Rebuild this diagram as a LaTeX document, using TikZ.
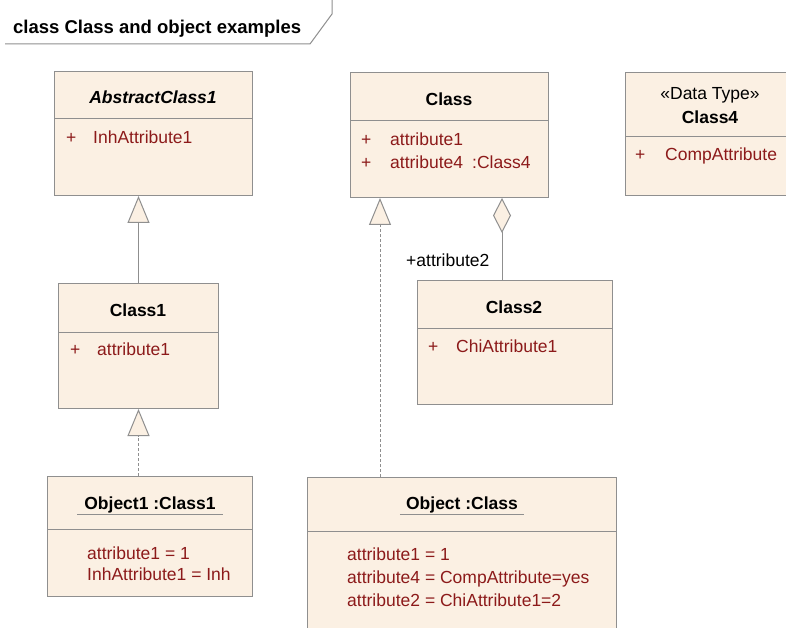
\documentclass[tikz,border=0pt]{standalone}
\usepackage{fontspec}
\setmainfont{Liberation Sans}
\usetikzlibrary{arrows.meta,calc}
\definecolor{boxfill}{HTML}{FBF0E3}
\definecolor{boxline}{HTML}{8F8F8F}
\definecolor{attrred}{HTML}{8C1A1A}
\begin{document}
\begin{tikzpicture}[x=1pt,y=-1pt,
  every node/.style={font=\fontsize{17.5}{20}\selectfont},
  umlbox/.style={draw=boxline, fill=boxfill, line width=1pt, anchor=north west, inner sep=0pt},
  ttl/.style={font=\fontsize{17.5}{20}\selectfont\bfseries, inner sep=0pt, anchor=mid, yshift=-3.5pt},
  attr/.style={text=attrred, inner sep=0pt, anchor=mid west, yshift=-3.5pt},
  plain/.style={inner sep=0pt, anchor=mid west, yshift=-3.5pt},
  divider/.style={draw=boxline, line width=1pt},
  gen/.style={draw=boxline, line width=1pt, -{Triangle[width=22pt,length=27pt,fill=boxfill]}},
  inst/.style={gen, dash pattern=on 3pt off 2pt},
  agg/.style={draw=boxline, line width=1pt, -{Diamond[width=18pt,length=35pt,fill=boxfill]}}
]
\useasboundingbox (0,0) rectangle (786,628);
\clip (0,0) rectangle (786,628);
\fill[white] (0,0) rectangle (786,628);

% frame label
\draw[boxline, line width=1pt] (5,44) -- (310,44) -- (332,14) -- (332,0);
\node[ttl, anchor=mid west, font=\fontsize{18.5}{21}\selectfont\bfseries] (frameT) at (13,27) {class Class and object examples};

% AbstractClass1
\node[umlbox, minimum width=198pt, minimum height=124pt] (abs) at (54,71) {};
\draw[divider] (abs.west |- 0,119) -- (abs.east |- 0,119);
\node[ttl, font=\fontsize{17.5}{20}\selectfont\bfseries\itshape] (absT) at (153,97) {AbstractClass1};
\node[attr] (absP) at (66,137) {+};
\node[attr] (absA) at (93,137) {InhAttribute1};

% Class
\node[umlbox, minimum width=198pt, minimum height=125pt] (cls) at (350,72) {};
\draw[divider] (cls.west |- 0,121) -- (cls.east |- 0,121);
\node[ttl] (clsT) at (449,99) {Class};
\node[attr] (clsP1) at (361,139) {+};
\node[attr] (clsA1) at (390,139) {attribute1};
\node[attr] (clsP2) at (361,162) {+};
\node[attr] (clsA2) at (390,162) {attribute4\hspace{9pt}:Class4};

% Class4
\node[umlbox, minimum width=175pt, minimum height=123pt] (c4) at (625,72) {};
\draw[divider] (c4.west |- 0,137) -- (c4.east |- 0,137);
\node[inner sep=0pt, anchor=mid, yshift=-3.5pt] (c4S) at (710,93) {«Data Type»};
\node[ttl] (c4T) at (710,117) {Class4};
\node[attr] (c4P) at (635,154) {+};
\node[attr] (c4A) at (665,154) {CompAttribute};

% Class1
\node[umlbox, minimum width=160pt, minimum height=125pt] (c1) at (58,283) {};
\draw[divider] (c1.west |- 0,332) -- (c1.east |- 0,332);
\node[ttl] (c1T) at (138,310) {Class1};
\node[attr] (c1P) at (70,349) {+};
\node[attr] (c1A) at (97,349) {attribute1};

% Class2
\node[umlbox, minimum width=195pt, minimum height=124pt] (c2) at (417,280) {};
\draw[divider] (c2.west |- 0,328) -- (c2.east |- 0,328);
\node[ttl] (c2T) at (514,307) {Class2};
\node[attr] (c2P) at (428,346) {+};
\node[attr] (c2A) at (456,346) {ChiAttribute1};

% Object1 :Class1
\node[umlbox, minimum width=205pt, minimum height=120pt] (o1) at (47,476) {};
\draw[divider] (o1.west |- 0,529) -- (o1.east |- 0,529);
\node[ttl] (o1T) at (150,503) {Object1 :Class1};
\draw[boxline, line width=1pt] ($(o1T.base west)+(-7,5)$) -- ($(o1T.base east)+(7,5)$);
\node[attr] (o1A1) at (87,553) {attribute1 = 1};
\node[attr] (o1A2) at (87,574) {InhAttribute1 = Inh};

% Object :Class
\node[umlbox, minimum width=309pt, minimum height=170pt] (o) at (307,477) {};
\draw[divider] (o.west |- 0,531) -- (o.east |- 0,531);
\node[ttl] (oT) at (462,503) {Object :Class};
\draw[boxline, line width=1pt] ($(oT.base west)+(-6,5)$) -- ($(oT.base east)+(6,5)$);
\node[attr] (oA1) at (347,554) {attribute1 = 1};
\node[attr] (oA2) at (347,577) {attribute4 = CompAttribute=yes};
\node[attr] (oA3) at (347,600) {attribute2 = ChiAttribute1=2};

% connectors
\coordinate (g1) at ($(cls.south west)+(30,0)$);
\coordinate (g2) at ($(cls.south west)+(152,0)$);
\draw[gen] (c1.north) -- (c1.north |- abs.south);
\draw[inst] (o1.north -| c1.south) -- (c1.south);
\draw[inst] (o.north -| g1) -- (g1);
\draw[agg] (c2.north -| g2) -- (g2);
\node[plain] (role) at (406,260) {+attribute2};
\end{tikzpicture}
\end{document}
